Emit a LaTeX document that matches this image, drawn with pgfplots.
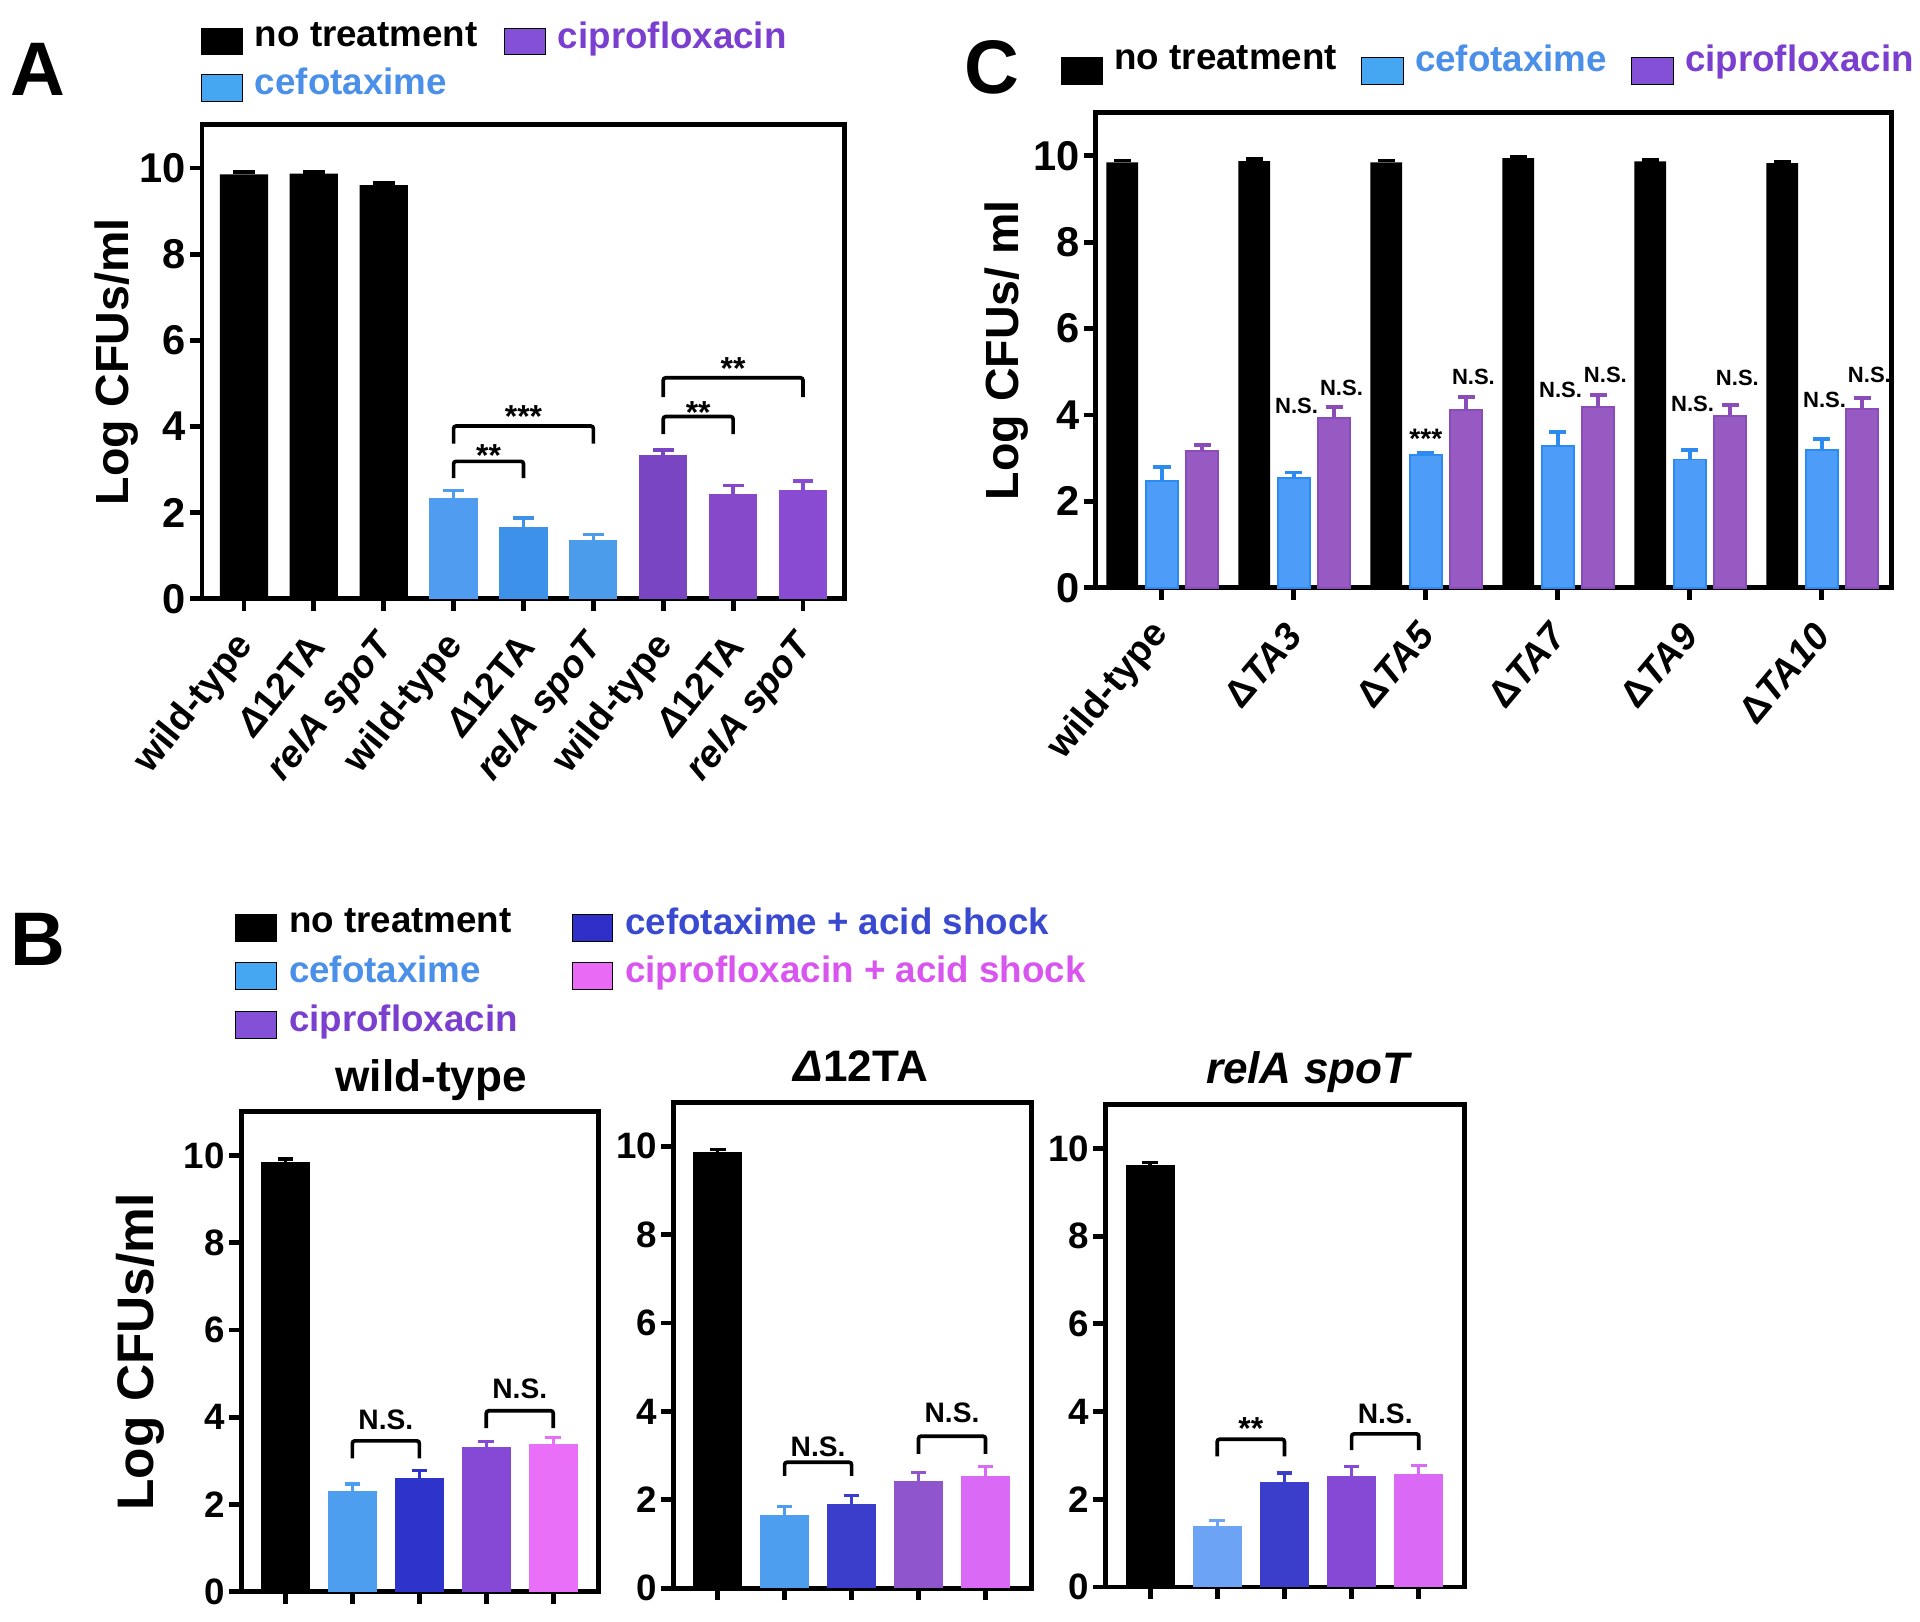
\documentclass[border=0pt]{standalone}
\usepackage{fontspec}
\setmainfont{Liberation Sans}
\usepackage{pgfplots}
\pgfplotsset{compat=1.18}

\definecolor{cefA1}{HTML}{509CF0}
\definecolor{cefA2}{HTML}{3E91E8}
\definecolor{cefA3}{HTML}{4B9DEB}
\definecolor{cipA1}{HTML}{7A45C3}
\definecolor{cipA2}{HTML}{8549C9}
\definecolor{cipA3}{HTML}{8A4BD3}
\definecolor{legblue}{HTML}{45A6F2}
\definecolor{legpurple}{HTML}{8451D6}
\definecolor{txtblue}{HTML}{4A8FE8}
\definecolor{txtpurple}{HTML}{7B3FD0}
\definecolor{cefC}{HTML}{4D9CF8}
\definecolor{cefCe}{HTML}{2B8BF0}
\definecolor{cipC}{HTML}{9759C2}
\definecolor{cipCe}{HTML}{8A4CB8}
\definecolor{cefB}{HTML}{4E9EF0}
\definecolor{cefBl}{HTML}{6CA3F4}
\definecolor{cefacB}{HTML}{2E34C9}
\definecolor{cefacB2}{HTML}{3B3DCB}
\definecolor{cipB}{HTML}{8549D5}
\definecolor{cipB2}{HTML}{8E55CC}
\definecolor{cipacB}{HTML}{EA6FF8}
\definecolor{cipacB2}{HTML}{DA6AF5}
\definecolor{legdblue}{HTML}{2E30C8}
\definecolor{txtdblue}{HTML}{3A4AD0}
\definecolor{legpink}{HTML}{E86AF5}
\definecolor{txtpink}{HTML}{D955F0}

\tikzset{br/.style={line width=1.5pt, rounded corners=1pt}}
\pgfplotsset{
  base/.style={
    scale only axis, anchor=south west, clip=false,
    ymin=0, ymax=11, ytick={0,2,4,6,8,10},
    axis line style={line width=2pt},
    tick style={line width=2pt, black},
    major tick length=5pt, tick align=outside,
    xtick pos=bottom, ytick pos=left,
    /pgf/number format/assume math mode=true,
    yticklabel style={inner sep=1.5pt},
    legend cell align=left,
    legend image code/.code={\fill[##1] (0pt,-7.5pt) rectangle (16.5pt,3.5pt);},
  },
  mybar/.style n args={4}{ybar, bar width=#2, bar shift=0pt, fill=#1, draw=none, forget plot,
    error bars/y dir=plus, error bars/y explicit,
    error bars/error bar style={line width=#4, color=#1},
    error bars/error mark options={rotate=90, mark size=#3, line width=#4, color=#1}},
}

\begin{document}
\begin{tikzpicture}
\useasboundingbox (0,0) rectangle (784pt,-662pt);

% ---------------- Panel A ----------------
\begin{axis}[base, at={(82.5pt,-244.5pt)}, width=262.5pt, height=193.5pt,
  xmin=-0.6, xmax=8.6, xtick={0,...,8},
  xticklabels={wild-type,{\itshape Δ}12TA,{\itshape relA spoT},wild-type,{\itshape Δ}12TA,{\itshape relA spoT},wild-type,{\itshape Δ}12TA,{\itshape relA spoT}},
  yticklabel style={font=\fontsize{17}{20}\selectfont\bfseries},
  xticklabel style={xshift=1.8pt, yshift=-11pt, rotate=51, anchor=east, inner sep=1pt, font=\fontsize{15.5}{18}\selectfont\bfseries},
  ylabel={Log CFUs/ml},
  every axis y label/.style={at={(axis description cs:-0.133,0.5)}, rotate=90, anchor=center, font=\fontsize{19}{22}\selectfont\bfseries},
  legend style={draw=none, fill=none, at={(axis description cs:-0.0133,1.240)}, anchor=north west,
    legend columns=2, font=\fontsize{15}{18}\selectfont\bfseries, row sep=2.5pt,
    /tikz/every odd column/.append style={column sep=3pt},
    /tikz/every even column/.append style={column sep=9pt}},
]
\addlegendimage{fill=black}\addlegendentry{no treatment}
\addlegendimage{fill=legpurple}\addlegendentry{\textcolor{txtpurple}{ciprofloxacin}}
\addlegendimage{fill=legblue}\addlegendentry{\textcolor{txtblue}{cefotaxime}}

\addplot[mybar={black}{0.69}{4.5pt}{1.5pt}] coordinates {(0,9.85) +- (0,0.05) (1,9.87) +- (0,0.04) (2,9.60) +- (0,0.05)};
\addplot[mybar={cefA1}{0.69}{4.25pt}{1.5pt}] coordinates {(3,2.33) +- (0,0.18)};
\addplot[mybar={cefA2}{0.69}{4.25pt}{1.5pt}] coordinates {(4,1.67) +- (0,0.21)};
\addplot[mybar={cefA3}{0.69}{4.25pt}{1.5pt}] coordinates {(5,1.37) +- (0,0.12)};
\addplot[mybar={cipA1}{0.69}{4.25pt}{1.5pt}] coordinates {(6,3.33) +- (0,0.13)};
\addplot[mybar={cipA2}{0.69}{4.25pt}{1.5pt}] coordinates {(7,2.44) +- (0,0.19)};
\addplot[mybar={cipA3}{0.69}{4.25pt}{1.5pt}] coordinates {(8,2.53) +- (0,0.21)};

\draw[br] (axis cs:3,2.80) -- (axis cs:3,3.19) -- (axis cs:4,3.19) -- (axis cs:4,2.80);
\draw[br] (axis cs:3,3.60) -- (axis cs:3,4.01) -- (axis cs:5,4.01) -- (axis cs:5,3.60);
\draw[br] (axis cs:6,3.82) -- (axis cs:6,4.23) -- (axis cs:7,4.23) -- (axis cs:7,3.82);
\draw[br] (axis cs:6,4.68) -- (axis cs:6,5.13) -- (axis cs:8,5.13) -- (axis cs:8,4.68);
\begin{scope}[every node/.style={anchor=base, inner sep=0pt, font=\fontsize{13}{15}\selectfont\bfseries}]
\node at (axis cs:3.5,3.07) {**};
\node at (axis cs:4,3.97) {***};
\node at (axis cs:6.5,4.07) {**};
\node at (axis cs:7,5.09) {**};
\end{scope}
\end{axis}

% ---------------- Panel C ----------------
\begin{axis}[base, at={(447.5pt,-240pt)}, width=325pt, height=194pt,
  xmin=-0.5, xmax=5.53, xtick={0,...,5},
  xticklabels={wild-type,Δ{\itshape TA3},Δ{\itshape TA5},Δ{\itshape TA7},Δ{\itshape TA9},Δ{\itshape TA10}},
  yticklabel style={font=\fontsize{17}{20}\selectfont\bfseries},
  xticklabel style={xshift=0.7pt, yshift=-10.7pt, rotate=50, anchor=east, inner sep=1pt, font=\fontsize{15.5}{18}\selectfont\bfseries},
  ylabel={Log CFUs/ ml},
  every axis y label/.style={at={(axis description cs:-0.112,0.5)}, rotate=90, anchor=center, font=\fontsize{19}{22}\selectfont\bfseries},
  legend image code/.code={\fill[#1] (0pt,-10pt) rectangle (17pt,1pt);},
  legend style={draw=none, fill=none, at={(axis description cs:-0.054,1.165)}, anchor=north west,
    legend columns=3, font=\fontsize{15}{18}\selectfont\bfseries,
    /tikz/every odd column/.append style={column sep=2.5pt},
    /tikz/every even column/.append style={column sep=8pt}},
]
\addlegendimage{fill=black}\addlegendentry{no treatment}
\addlegendimage{fill=legblue}\addlegendentry{\textcolor{txtblue}{cefotaxime}}
\addlegendimage{fill=legpurple}\addlegendentry{\textcolor{txtpurple}{ciprofloxacin}}

\addplot[mybar={black}{0.24}{3.5pt}{1.5pt}] coordinates {(-0.3,9.85) +- (0,0.04) (0.7,9.88) +- (0,0.04) (1.7,9.85) +- (0,0.04) (2.7,9.95) +- (0,0.03) (3.7,9.87) +- (0,0.04) (4.7,9.83) +- (0,0.04)};
\addplot[mybar={cefCe}{0.24}{3.5pt}{1.5pt}, fill=cefC, draw=cefCe, line width=0.8pt] coordinates {(0,2.47) +- (0,0.32) (1,2.55) +- (0,0.12) (2,3.08) +- (0,0.05) (3,3.29) +- (0,0.31) (4,2.97) +- (0,0.22) (5,3.20) +- (0,0.25)};
\addplot[mybar={cipCe}{0.24}{3.5pt}{1.5pt}, fill=cipC, draw=cipCe, line width=0.8pt] coordinates {(0.305,3.16) +- (0,0.14) (1.305,3.92) +- (0,0.27) (2.305,4.12) +- (0,0.29) (3.305,4.19) +- (0,0.28) (4.305,3.97) +- (0,0.26) (5.305,4.13) +- (0,0.27)};

\begin{scope}[every node/.style={anchor=center, inner sep=0pt, font=\fontsize{9}{11}\selectfont\bfseries}]
\node at (axis cs:1.02,4.21) {N.S.};
\node at (axis cs:1.36,4.62) {N.S.};
\node[font=\fontsize{11.5}{13}\selectfont\bfseries] at (axis cs:2.0,3.46) {***};
\node at (axis cs:2.36,4.88) {N.S.};
\node at (axis cs:3.02,4.58) {N.S.};
\node at (axis cs:3.36,4.93) {N.S.};
\node at (axis cs:4.02,4.26) {N.S.};
\node at (axis cs:4.36,4.85) {N.S.};
\node at (axis cs:5.02,4.36) {N.S.};
\node at (axis cs:5.36,4.93) {N.S.};
\end{scope}
\end{axis}

% ---------------- Panel B ----------------
\pgfplotsset{bpanel/.style={base, xmin=-0.66, xmax=4.68, xtick={0,...,4}, xticklabels={},
  tick label style={font=\fontsize{15}{18}\selectfont\bfseries},
  title style={anchor=base, yshift=2.5pt, font=\fontsize{18}{21}\selectfont\bfseries}}}

\begin{axis}[bpanel, at={(98.5pt,-650pt)}, width=146pt, height=196pt,
  title={wild-type}, title style={at={(axis description cs:0.531,1)}},
  ylabel={Log CFUs/ml},
  every axis y label/.style={at={(axis description cs:-0.281,0.5)}, rotate=90, anchor=center, font=\fontsize{21}{24}\selectfont\bfseries},
  legend style={draw=none, fill=none, at={(axis description cs:-0.038,1.447)}, anchor=north west,
    legend columns=2, font=\fontsize{15}{18}\selectfont\bfseries, row sep=3.5pt,
    /tikz/every odd column/.append style={column sep=3pt},
    /tikz/every even column/.append style={column sep=20pt}},
]
\addlegendimage{fill=black}\addlegendentry{no treatment}
\addlegendimage{fill=legdblue}\addlegendentry{\textcolor{txtdblue}{cefotaxime + acid shock}}
\addlegendimage{fill=legblue}\addlegendentry{\textcolor{txtblue}{cefotaxime}}
\addlegendimage{fill=legpink}\addlegendentry{\textcolor{txtpink}{ciprofloxacin + acid shock}}
\addlegendimage{fill=legpurple}\addlegendentry{\textcolor{txtpurple}{ciprofloxacin}}

\addplot[mybar={black}{0.73}{3.2pt}{1.3pt}] coordinates {(0,9.86) +- (0,0.06)};
\addplot[mybar={cefB}{0.73}{3.2pt}{1.3pt}] coordinates {(1,2.32) +- (0,0.15)};
\addplot[mybar={cefacB}{0.73}{3.2pt}{1.3pt}] coordinates {(2,2.60) +- (0,0.19)};
\addplot[mybar={cipB}{0.73}{3.2pt}{1.3pt}] coordinates {(3,3.31) +- (0,0.13)};
\addplot[mybar={cipacB}{0.73}{3.2pt}{1.3pt}] coordinates {(4,3.40) +- (0,0.13)};
\draw[br] (axis cs:1,3.06) -- (axis cs:1,3.46) -- (axis cs:2,3.46) -- (axis cs:2,3.06);
\draw[br] (axis cs:3,3.75) -- (axis cs:3,4.15) -- (axis cs:4,4.15) -- (axis cs:4,3.75);
\begin{scope}[every node/.style={anchor=base, inner sep=0pt, font=\fontsize{11.5}{13}\selectfont\bfseries}]
\node at (axis cs:1.5,3.73) {N.S.};
\node at (axis cs:3.5,4.42) {N.S.};
\end{scope}
\end{axis}

\begin{axis}[bpanel, at={(275pt,-648.5pt)}, width=146pt, height=198.5pt,
  title={{\itshape Δ}12TA}, title style={at={(axis description cs:0.524,1)}}]
\addplot[mybar={black}{0.73}{3.2pt}{1.3pt}] coordinates {(0,9.88) +- (0,0.05)};
\addplot[mybar={cefB}{0.73}{3.2pt}{1.3pt}] coordinates {(1,1.65) +- (0,0.20)};
\addplot[mybar={cefacB2}{0.73}{3.2pt}{1.3pt}] coordinates {(2,1.90) +- (0,0.20)};
\addplot[mybar={cipB2}{0.73}{3.2pt}{1.3pt}] coordinates {(3,2.43) +- (0,0.18)};
\addplot[mybar={cipacB2}{0.73}{3.2pt}{1.3pt}] coordinates {(4,2.55) +- (0,0.20)};
\draw[br] (axis cs:1,2.54) -- (axis cs:1,2.85) -- (axis cs:2,2.85) -- (axis cs:2,2.54);
\draw[br] (axis cs:3,3.04) -- (axis cs:3,3.44) -- (axis cs:4,3.44) -- (axis cs:4,3.04);
\begin{scope}[every node/.style={anchor=base, inner sep=0pt, font=\fontsize{11.5}{13}\selectfont\bfseries}]
\node at (axis cs:1.5,2.99) {N.S.};
\node at (axis cs:3.5,3.74) {N.S.};
\end{scope}
\end{axis}

\begin{axis}[bpanel, at={(451.5pt,-648pt)}, width=146.5pt, height=197pt,
  title={{\itshape relA spoT}}, title style={at={(axis description cs:0.563,1)}}]
\addplot[mybar={black}{0.73}{3.2pt}{1.3pt}] coordinates {(0,9.63) +- (0,0.04)};
\addplot[mybar={cefBl}{0.73}{3.2pt}{1.3pt}] coordinates {(1,1.39) +- (0,0.13)};
\addplot[mybar={cefacB2}{0.73}{3.2pt}{1.3pt}] coordinates {(2,2.39) +- (0,0.21)};
\addplot[mybar={cipB}{0.73}{3.2pt}{1.3pt}] coordinates {(3,2.54) +- (0,0.20)};
\addplot[mybar={cipacB2}{0.73}{3.2pt}{1.3pt}] coordinates {(4,2.58) +- (0,0.19)};
\draw[br] (axis cs:1,2.98) -- (axis cs:1,3.37) -- (axis cs:2,3.37) -- (axis cs:2,2.98);
\draw[br] (axis cs:3,3.12) -- (axis cs:3,3.49) -- (axis cs:4,3.49) -- (axis cs:4,3.12);
\begin{scope}[every node/.style={anchor=base, inner sep=0pt, font=\fontsize{11.5}{13}\selectfont\bfseries}]
\node[font=\fontsize{13}{15}\selectfont\bfseries] at (axis cs:1.5,3.37) {**};
\node at (axis cs:3.5,3.73) {N.S.};
\end{scope}
\end{axis}

% panel letters
\node[font=\fontsize{31}{34}\selectfont\bfseries] at (15.5pt,-28.5pt) {A};
\node[font=\fontsize{31}{34}\selectfont\bfseries] at (405pt,-27.5pt) {C};
\node[font=\fontsize{31}{34}\selectfont\bfseries] at (15.5pt,-383.5pt) {B};
\end{tikzpicture}
\end{document}
